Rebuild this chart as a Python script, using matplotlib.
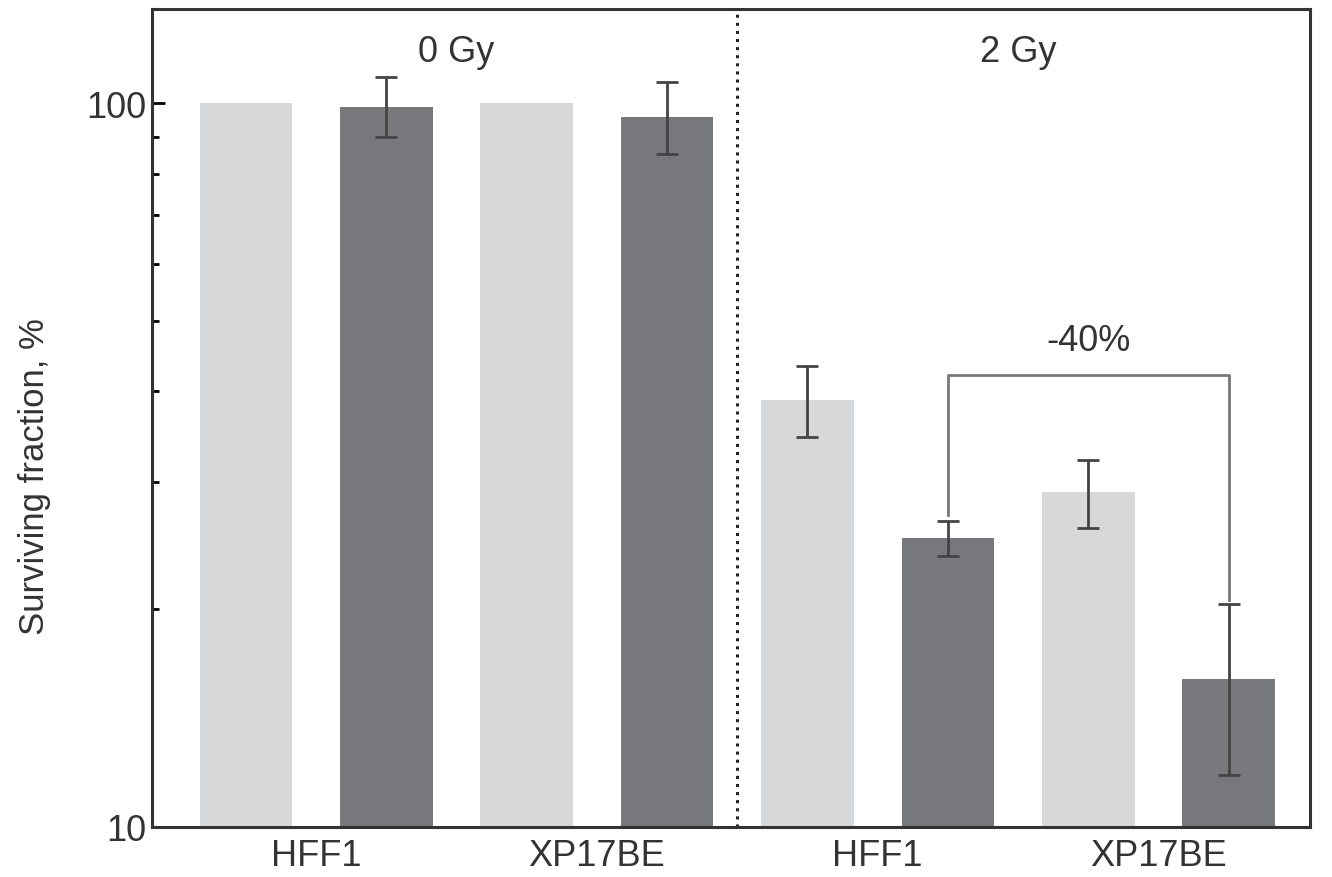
import matplotlib.pyplot as plt
import numpy as np

plt.rcParams['font.family'] = ['Liberation Sans', 'DejaVu Sans']

# bar values (%), in plotting order: 0 Gy then 2 Gy
groups = ['0 Gy', '2 Gy']
cell_lines = ['HFF1', 'XP17BE', 'HFF1', 'XP17BE']
values = [100.0, 99.0, 100.0, 95.9, 38.9, 25.1, 29.0, 16.0]
err_low = [None, 90.0, None, 85.0, 34.6, 23.7, 25.9, 11.8]
err_high = [None, 108.6, None, 107.2, 43.3, 26.5, 32.1, 20.3]
bar_colors = ['#d7d8da', '#77787c'] * 4

fig = plt.figure(figsize=(13.32, 8.78), dpi=100)
ax = fig.add_axes([0.114, 0.057, 0.8695, 0.9315])

x = np.arange(len(values))
ax.bar(x, values, width=0.66, color=bar_colors, zorder=1)

for i in range(len(values)):
    if err_low[i] is None:
        continue
    lo = values[i] - err_low[i]
    hi = err_high[i] - values[i]
    ax.errorbar(x[i], values[i], yerr=[[lo], [hi]], fmt='none',
                ecolor='#444444', elinewidth=2, capsize=8, capthick=2, zorder=3)

ax.set_yscale('log')
ax.set_ylim(10, 135)
ax.set_xlim(-0.67, 7.58)

ax.set_yticks([10, 100])
ax.set_yticklabels(['10', '100'])
ax.tick_params(axis='y', which='major', direction='in', length=9, width=2,
               labelsize=26, pad=4, labelcolor='#333333')
ax.tick_params(axis='y', which='minor', direction='in', length=5, width=2)
ax.yaxis.set_minor_formatter(plt.NullFormatter())

ax.set_xticks([0.5, 2.5, 4.5, 6.5])
ax.set_xticklabels(cell_lines)
ax.tick_params(axis='x', length=0, labelsize=26, pad=8, labelcolor='#333333')

ax.set_ylabel('Surviving fraction, %', fontsize=25, color='#333333')
ax.yaxis.set_label_coords(-0.087, 0.43)

for s in ax.spines.values():
    s.set_linewidth(2.2)
    s.set_color('#333333')

# divider between dose groups
ax.axvline(3.5, color='#222222', linestyle=':', linewidth=2.2)
ax.text(1.5, 118, groups[0], ha='center', va='center', fontsize=26, color='#333333')
ax.text(5.5, 118, groups[1], ha='center', va='center', fontsize=26, color='#333333')

# comparison bracket
br_y = 42.2
ax.plot([5, 5, 7, 7], [err_high[5] + 0.5, br_y, br_y, err_high[7] + 0.3],
        color='#777777', linewidth=2, zorder=2)
ax.text(6.0, 47.0, '-40%', ha='center', va='center', fontsize=26, color='#333333')

fig.savefig('out.png', dpi=100)
